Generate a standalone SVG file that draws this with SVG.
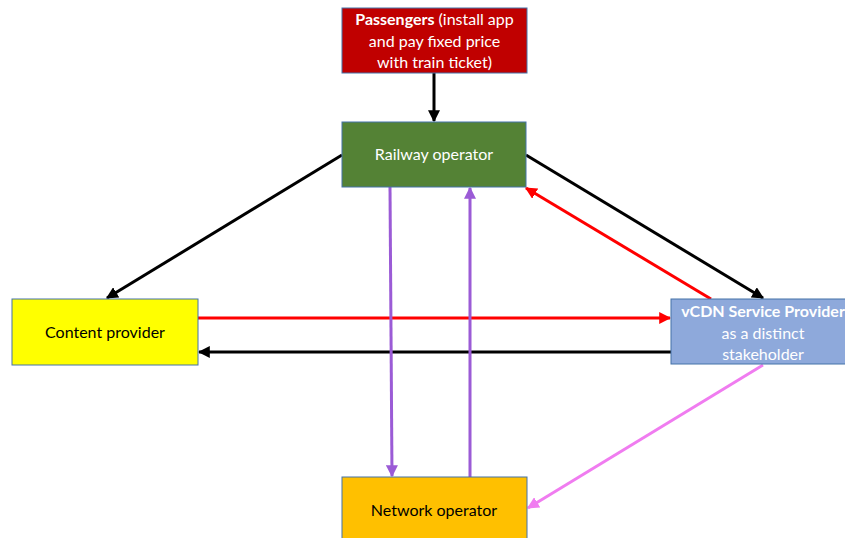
<svg xmlns="http://www.w3.org/2000/svg" width="845" height="538" viewBox="0 0 845 538">
  <style>
    .box { stroke: #4472A8; stroke-width: 1; }
    .lbl { font-family: Lato, "Open Sans", "Liberation Sans", sans-serif; font-size: 16px; text-anchor: middle; }
    .w { fill: #ffffff; }
    .k { fill: #000000; }
    .b { font-weight: bold; }
    .c { fill: none; stroke-width: 3; }
  </style>
  <defs>
    <marker id="ah-black" viewBox="0 0 10 10" refX="9" refY="5" markerWidth="4" markerHeight="4" markerUnits="strokeWidth" orient="auto">
      <path d="M0,0 L10,5 L0,10 z" fill="#000000"/>
    </marker>
    <marker id="ah-red" viewBox="0 0 10 10" refX="9" refY="5" markerWidth="4" markerHeight="4" markerUnits="strokeWidth" orient="auto">
      <path d="M0,0 L10,5 L0,10 z" fill="#FF0000"/>
    </marker>
    <marker id="ah-purple" viewBox="0 0 10 10" refX="9" refY="5" markerWidth="4" markerHeight="4" markerUnits="strokeWidth" orient="auto">
      <path d="M0,0 L10,5 L0,10 z" fill="#9B5BD6"/>
    </marker>
    <marker id="ah-pink" viewBox="0 0 10 10" refX="9" refY="5" markerWidth="4" markerHeight="4" markerUnits="strokeWidth" orient="auto">
      <path d="M0,0 L10,5 L0,10 z" fill="#F07CF0"/>
    </marker>
  </defs>

  <rect width="845" height="538" fill="#ffffff"/>

  <g id="connectors">
    <line class="c" x1="434" y1="73" x2="434" y2="121" stroke="#000000" marker-end="url(#ah-black)"/>
    <line class="c" x1="342" y1="155" x2="107" y2="298" stroke="#000000" marker-end="url(#ah-black)"/>
    <line class="c" x1="526" y1="155" x2="763" y2="298" stroke="#000000" marker-end="url(#ah-black)"/>
    <line class="c" x1="711" y1="299" x2="526" y2="188" stroke="#FF0000" marker-end="url(#ah-red)"/>
    <line class="c" x1="198" y1="318" x2="670" y2="318" stroke="#FF0000" marker-end="url(#ah-red)"/>
    <line class="c" x1="671" y1="352" x2="199" y2="352" stroke="#000000" marker-end="url(#ah-black)"/>
    <line class="c" x1="390" y1="187" x2="392" y2="476" stroke="#9B5BD6" marker-end="url(#ah-purple)"/>
    <line class="c" x1="470" y1="477" x2="470" y2="188" stroke="#9B5BD6" marker-end="url(#ah-purple)"/>
    <line class="c" x1="763" y1="365" x2="528" y2="508" stroke="#F07CF0" stroke-width="2.5" marker-end="url(#ah-pink)"/>
  </g>

  <g id="passengers">
    <rect class="box" x="342" y="8" width="185" height="65" fill="#C00000"/>
    <text class="lbl w" x="434.5" y="25"><tspan class="b">Passengers</tspan> (install app</text>
    <text class="lbl w" x="434.5" y="47">and pay fixed price</text>
    <text class="lbl w" x="434.5" y="68">with train ticket)</text>
  </g>

  <g id="railway-operator">
    <rect class="box" x="342" y="122" width="184" height="65" fill="#548235"/>
    <text class="lbl w" x="434" y="160">Railway operator</text>
  </g>

  <g id="content-provider">
    <rect class="box" x="12" y="299" width="186" height="66" fill="#FFFF00"/>
    <text class="lbl k" x="105" y="338">Content provider</text>
  </g>

  <g id="vcdn-provider">
    <rect class="box" x="671" y="299" width="180" height="65" fill="#8EA9DB"/>
    <text class="lbl w b" x="763" y="317">vCDN Service Provider</text>
    <text class="lbl w" x="763" y="339">as a distinct</text>
    <text class="lbl w" x="763" y="360">stakeholder</text>
  </g>

  <g id="network-operator">
    <rect class="box" x="342" y="477" width="185" height="70" fill="#FFC000"/>
    <text class="lbl k" x="434" y="516">Network operator</text>
  </g>
</svg>
